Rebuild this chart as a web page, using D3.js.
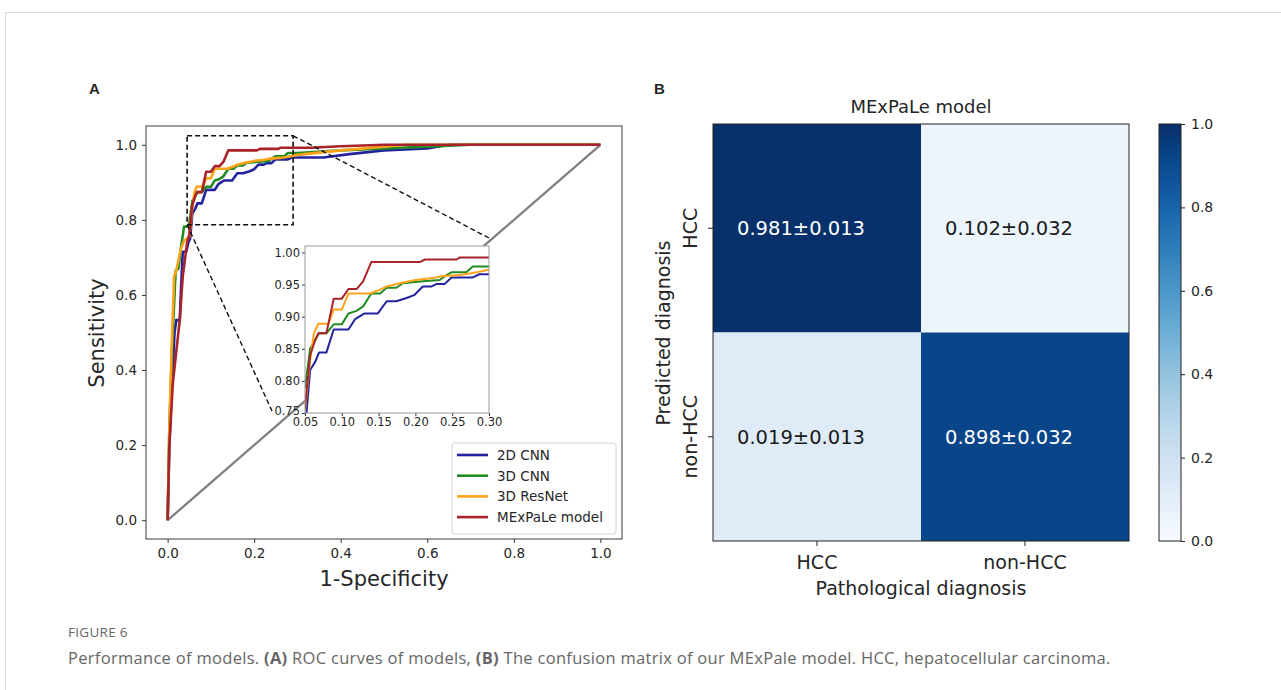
<!DOCTYPE html>
<html>
<head>
<meta charset="utf-8">
<script src="https://cdn.jsdelivr.net/npm/d3@7"></script>
<style>
body { margin: 0; background: #fff; }
text { font-family: "DejaVu Sans", sans-serif; fill: #262626; }
</style>
</head>
<body>
<div id="fig"></div>
<script>
// figure.js

const fig_w = 1281;
const fig_h = 690;

// ROC data (fpr, tpr)
const modelNames = ["2D CNN", "3D CNN", "3D ResNet", "MExPaLe model"];

const roc2DCNN = [[0,0],[0.004,0.2],[0.01,0.36],[0.016,0.5],[0.02,0.533],[0.028,0.533],[0.031,0.62],[0.035,0.715],[0.043,0.715],[0.048,0.74],[0.052,0.75],[0.057,0.817],[0.064,0.83],[0.069,0.844],[0.079,0.844],[0.089,0.88],[0.109,0.88],[0.118,0.896],[0.131,0.905],[0.149,0.905],[0.161,0.924],[0.174,0.924],[0.188,0.929],[0.199,0.934],[0.21,0.947],[0.222,0.947],[0.229,0.951],[0.24,0.951],[0.249,0.961],[0.278,0.961],[0.287,0.966],[0.36,0.966],[0.42,0.975],[0.5,0.985],[0.6,0.99],[0.65,1.0],[1,1]];

const roc3DCNN = [[0,0],[0.004,0.25],[0.01,0.45],[0.0185,0.665],[0.025,0.67],[0.03,0.72],[0.038,0.782],[0.045,0.782],[0.05,0.79],[0.057,0.85],[0.064,0.864],[0.069,0.874],[0.079,0.874],[0.089,0.888],[0.1,0.888],[0.109,0.905],[0.12,0.909],[0.129,0.916],[0.14,0.936],[0.152,0.936],[0.161,0.945],[0.174,0.945],[0.183,0.952],[0.21,0.955],[0.233,0.957],[0.24,0.963],[0.249,0.969],[0.269,0.969],[0.278,0.978],[0.3,0.978],[0.4,0.985],[0.5,0.99],[0.6,0.995],[0.7,1.0],[1,1]];

const roc3DResNet = [[0,0],[0.004,0.25],[0.009,0.45],[0.015,0.65],[0.02,0.665],[0.03,0.72],[0.038,0.745],[0.05,0.755],[0.057,0.832],[0.062,0.874],[0.068,0.889],[0.082,0.889],[0.089,0.911],[0.1,0.911],[0.109,0.936],[0.138,0.936],[0.152,0.942],[0.161,0.947],[0.179,0.952],[0.2,0.957],[0.224,0.96],[0.235,0.963],[0.26,0.965],[0.278,0.968],[0.3,0.973],[0.4,0.985],[0.5,0.995],[0.55,1.0],[1,1]];

const rocMExPaLe = [[0,0],[0.004,0.2],[0.012,0.365],[0.02,0.45],[0.028,0.533],[0.035,0.65],[0.045,0.74],[0.05,0.76],[0.057,0.84],[0.064,0.864],[0.068,0.874],[0.079,0.874],[0.089,0.928],[0.1,0.928],[0.109,0.943],[0.12,0.943],[0.129,0.955],[0.14,0.985],[0.206,0.985],[0.213,0.989],[0.256,0.989],[0.26,0.992],[0.33,0.992],[0.4,0.996],[0.5,1.0],[1,1]];

const rocChance = [[0,0],[1,1]];

const mainTicks = [0, 0.2, 0.4, 0.6, 0.8, 1.0];
const insetXTicks = [0.05, 0.10, 0.15, 0.20, 0.25, 0.30];
const insetYTicks = [0.75, 0.80, 0.85, 0.90, 0.95, 1.00];

// Confusion matrix data
const cmRows = ["HCC", "non-HCC"];
const cmCols = ["HCC", "non-HCC"];
const cmMean = [[0.981, 0.102], [0.019, 0.898]];
const cmStd = [[0.013, 0.032], [0.013, 0.032]];
const cmShade = [[1.0, 0.05], [0.12, 0.92]];
const cbarTicks = [0, 0.2, 0.4, 0.6, 0.8, 1.0];

const lineColors = ["#23239f", "#238b23", "#ffa31a", "#a8232a"];
const rocSeries = [roc2DCNN, roc3DCNN, roc3DResNet, rocMExPaLe];

const svg = d3.select("#fig")
    .append("svg")
    .attr("width", fig_w)
    .attr("height", fig_h);

// page frame
svg.append("rect")
    .attr("x", 5.5).attr("y", 12.5)
    .attr("width", 1300).attr("height", 700)
    .attr("fill", "none")
    .attr("stroke", "#dcdcdc");

// Panel letters
svg.append("text").attr("x", 89).attr("y", 94)
    .style("font-family", "Liberation Sans, Arial, sans-serif")
    .style("font-weight", "bold").style("font-size", "15px")
    .text("A");
svg.append("text").attr("x", 654).attr("y", 94)
    .style("font-family", "Liberation Sans, Arial, sans-serif")
    .style("font-weight", "bold").style("font-size", "15px")
    .text("B");

// ---------- Panel A: ROC ----------
const xMain = d3.scaleLinear().domain([-0.05, 1.05]).range([146, 622]);
const yMain = d3.scaleLinear().domain([-0.05, 1.05]).range([539, 126]);

const panelA = svg.append("g");

const lineMain = d3.line()
    .x(d => xMain(d[0]))
    .y(d => yMain(d[1]));

panelA.append("path")
    .attr("d", lineMain(rocChance))
    .attr("fill", "none")
    .attr("stroke", "#7f7f7f")
    .attr("stroke-width", 2.3);

rocSeries.forEach((s, i) => {
    panelA.append("path")
        .attr("d", lineMain(s))
        .attr("fill", "none")
        .attr("stroke", lineColors[i])
        .attr("stroke-width", 2.6)
        .attr("stroke-linejoin", "round");
});

// axes
const xAxisMain = panelA.append("g")
    .attr("transform", "translate(0,539)")
    .call(d3.axisBottom(xMain).tickValues(mainTicks).tickFormat(d3.format(".1f")).tickSize(4).tickPadding(5));
const yAxisMain = panelA.append("g")
    .attr("transform", "translate(146,0)")
    .call(d3.axisLeft(yMain).tickValues(mainTicks).tickFormat(d3.format(".1f")).tickSize(4).tickPadding(5));

[xAxisMain, yAxisMain].forEach(ax => {
    ax.select(".domain").remove();
    ax.selectAll("line").attr("stroke", "#333");
    ax.selectAll("text").style("font-size", "13.5px").style("font-family", "DejaVu Sans").attr("fill", "#262626");
});

panelA.append("rect")
    .attr("x", 146).attr("y", 126)
    .attr("width", 476).attr("height", 413)
    .attr("fill", "none")
    .attr("stroke", "#3a3a3a")
    .attr("stroke-width", 1);

panelA.append("text")
    .attr("x", 384).attr("y", 586)
    .attr("text-anchor", "middle")
    .style("font-size", "21px")
    .text("1-Specificity");

panelA.append("text")
    .attr("transform", "translate(104,333) rotate(-90)")
    .attr("text-anchor", "middle")
    .style("font-size", "21px")
    .text("Sensitivity");

// zoom box on main axes
const zoomBox = { x0: 0.045, x1: 0.29, y0: 0.787, y1: 1.024 };
panelA.append("rect")
    .attr("x", xMain(zoomBox.x0))
    .attr("y", yMain(zoomBox.y1))
    .attr("width", xMain(zoomBox.x1) - xMain(zoomBox.x0))
    .attr("height", yMain(zoomBox.y0) - yMain(zoomBox.y1))
    .attr("fill", "none")
    .attr("stroke", "#111")
    .attr("stroke-width", 1.6)
    .attr("stroke-dasharray", "5,3");

// inset
const xIn = d3.scaleLinear().domain([0.05, 0.30]).range([305, 489]);
const yIn = d3.scaleLinear().domain([0.75, 1.01]).range([413, 246]);

panelA.append("line")
    .attr("x1", xMain(zoomBox.x0)).attr("y1", yMain(zoomBox.y0))
    .attr("x2", xIn.range()[0] - 33).attr("y2", yIn.range()[0] - 2)
    .attr("stroke", "#111").attr("stroke-width", 1.4).attr("stroke-dasharray", "5,3");
panelA.append("line")
    .attr("x1", xMain(zoomBox.x1)).attr("y1", yMain(zoomBox.y1))
    .attr("x2", xIn.range()[1]).attr("y2", yIn.range()[1] - 8)
    .attr("stroke", "#111").attr("stroke-width", 1.4).attr("stroke-dasharray", "5,3");

const inset = panelA.append("g");

inset.append("rect")
    .attr("x", 305).attr("y", 246)
    .attr("width", 184).attr("height", 167)
    .attr("fill", "#fff");

svg.append("defs").append("clipPath")
    .attr("id", "insetClip")
    .append("rect")
    .attr("x", 305).attr("y", 246)
    .attr("width", 184).attr("height", 167);

const lineIn = d3.line()
    .x(d => xIn(d[0]))
    .y(d => yIn(d[1]));

const insetCurves = inset.append("g").attr("clip-path", "url(#insetClip)");
rocSeries.forEach((s, i) => {
    insetCurves.append("path")
        .attr("d", lineIn(s))
        .attr("fill", "none")
        .attr("stroke", lineColors[i])
        .attr("stroke-width", 2)
        .attr("stroke-linejoin", "round");
});

const xAxisIn = inset.append("g")
    .attr("transform", "translate(0,413)")
    .call(d3.axisBottom(xIn).tickValues(insetXTicks).tickFormat(d3.format(".2f")).tickSize(3).tickPadding(2));
const yAxisIn = inset.append("g")
    .attr("transform", "translate(305,0)")
    .call(d3.axisLeft(yIn).tickValues(insetYTicks).tickFormat(d3.format(".2f")).tickSize(3).tickPadding(2));

[xAxisIn, yAxisIn].forEach(ax => {
    ax.select(".domain").remove();
    ax.selectAll("line").attr("stroke", "#333");
    ax.selectAll("text").style("font-size", "11.5px").style("font-family", "DejaVu Sans").attr("fill", "#262626");
});
// matplotlib lets the lowest y label sit just above the x labels
yAxisIn.selectAll(".tick text").filter(d => d === 0.75).attr("dy", "0.1em");

inset.append("rect")
    .attr("x", 305).attr("y", 246)
    .attr("width", 184).attr("height", 167)
    .attr("fill", "none")
    .attr("stroke", "#9a9a9a")
    .attr("stroke-width", 1);

// legend
const legend = panelA.append("g").attr("transform", "translate(452,443)");
legend.append("rect")
    .attr("width", 164).attr("height", 91)
    .attr("rx", 3)
    .attr("fill", "#fff")
    .attr("stroke", "#d4d4d4");

modelNames.forEach((name, i) => {
    const yy = 12 + i * 20.7;
    legend.append("line")
        .attr("x1", 5).attr("x2", 36)
        .attr("y1", yy).attr("y2", yy)
        .attr("stroke", lineColors[i])
        .attr("stroke-width", 2.6);
    legend.append("text")
        .attr("x", 45).attr("y", yy + 5)
        .style("font-size", "13.5px")
        .text(name);
});

// ---------- Panel B: confusion matrix ----------
const panelB = svg.append("g");

const xCm = d3.scaleBand().domain(cmCols).range([713, 1129]);
const yCm = d3.scaleBand().domain(cmRows).range([124, 541]);
const colorCm = d3.scaleSequential(d3.interpolateBlues).domain([0, 1]);

cmRows.forEach((r, i) => {
    cmCols.forEach((c, j) => {
        const v = cmShade[i][j];
        panelB.append("rect")
            .attr("x", xCm(c)).attr("y", yCm(r))
            .attr("width", xCm.bandwidth()).attr("height", yCm.bandwidth())
            .attr("fill", colorCm(v));
        panelB.append("text")
            .attr("x", xCm(c) + xCm.bandwidth() / 2 - 16)
            .attr("y", yCm(r) + yCm.bandwidth() / 2 + 7)
            .attr("text-anchor", "middle")
            .style("font-size", "19.5px")
            .style("fill", v > 0.5 ? "#ffffff" : "#1a1a1a")
            .text(`${cmMean[i][j].toFixed(3)}±${cmStd[i][j].toFixed(3)}`);
    });
});

panelB.append("rect")
    .attr("x", 713).attr("y", 124)
    .attr("width", 416).attr("height", 417)
    .attr("fill", "none")
    .attr("stroke", "#222");

// ticks
cmCols.forEach(c => {
    const cx = xCm(c) + xCm.bandwidth() / 2;
    panelB.append("line")
        .attr("x1", cx).attr("x2", cx)
        .attr("y1", 541).attr("y2", 546)
        .attr("stroke", "#222");
    panelB.append("text")
        .attr("x", cx).attr("y", 569)
        .attr("text-anchor", "middle")
        .style("font-size", "19px")
        .text(c);
});
cmRows.forEach(r => {
    const cy = yCm(r) + yCm.bandwidth() / 2;
    panelB.append("line")
        .attr("x1", 708).attr("x2", 713)
        .attr("y1", cy).attr("y2", cy)
        .attr("stroke", "#222");
    panelB.append("text")
        .attr("transform", `translate(697,${cy}) rotate(-90)`)
        .attr("text-anchor", "middle")
        .style("font-size", "19px")
        .text(r);
});

panelB.append("text")
    .attr("x", 921).attr("y", 113)
    .attr("text-anchor", "middle")
    .style("font-size", "18px")
    .text("MExPaLe model");

panelB.append("text")
    .attr("x", 921).attr("y", 595)
    .attr("text-anchor", "middle")
    .style("font-size", "19px")
    .text("Pathological diagnosis");

panelB.append("text")
    .attr("transform", "translate(670,333) rotate(-90)")
    .attr("text-anchor", "middle")
    .style("font-size", "19px")
    .text("Predicted diagnosis");

// colorbar
const yCbar = d3.scaleLinear().domain([0, 1]).range([541, 124]);
const grad = svg.select("defs").append("linearGradient")
    .attr("id", "cbarGrad")
    .attr("x1", 0).attr("y1", 1).attr("x2", 0).attr("y2", 0);
d3.range(0, 1.0001, 0.1).forEach(t => {
    grad.append("stop")
        .attr("offset", t)
        .attr("stop-color", colorCm(t));
});

panelB.append("rect")
    .attr("x", 1159).attr("y", 124)
    .attr("width", 22).attr("height", 417)
    .attr("fill", "url(#cbarGrad)")
    .attr("stroke", "#222");

const cbarAxis = panelB.append("g")
    .attr("transform", "translate(1181,0)")
    .call(d3.axisRight(yCbar).tickValues(cbarTicks).tickFormat(d3.format(".1f")).tickSize(4).tickPadding(6));
cbarAxis.select(".domain").remove();
cbarAxis.selectAll("line").attr("stroke", "#222");
cbarAxis.selectAll("text").style("font-size", "14px").style("font-family", "DejaVu Sans").attr("fill", "#262626");

// ---------- Caption ----------
const caption = svg.append("g");

caption.append("text")
    .attr("x", 68).attr("y", 637)
    .style("font-family", "Open Sans, sans-serif")
    .style("font-size", "13.5px")
    .style("letter-spacing", "0.3px")
    .style("fill", "#666")
    .text("FIGURE 6");

const capLine = caption.append("text")
    .attr("x", 68).attr("y", 664)
    .style("font-family", "Open Sans, sans-serif")
    .style("font-size", "16.5px")
    .style("letter-spacing", "0.3px")
    .style("fill", "#666");

const capParts = [
    ["Performance of models. ", false],
    ["(A)", true],
    [" ROC curves of models, ", false],
    ["(B)", true],
    [" The confusion matrix of our MExPale model. HCC, hepatocellular carcinoma.", false]
];
capParts.forEach(p => {
    capLine.append("tspan")
        .style("font-weight", p[1] ? "bold" : "normal")
        .text(p[0]);
});
</script>
</body>
</html>
